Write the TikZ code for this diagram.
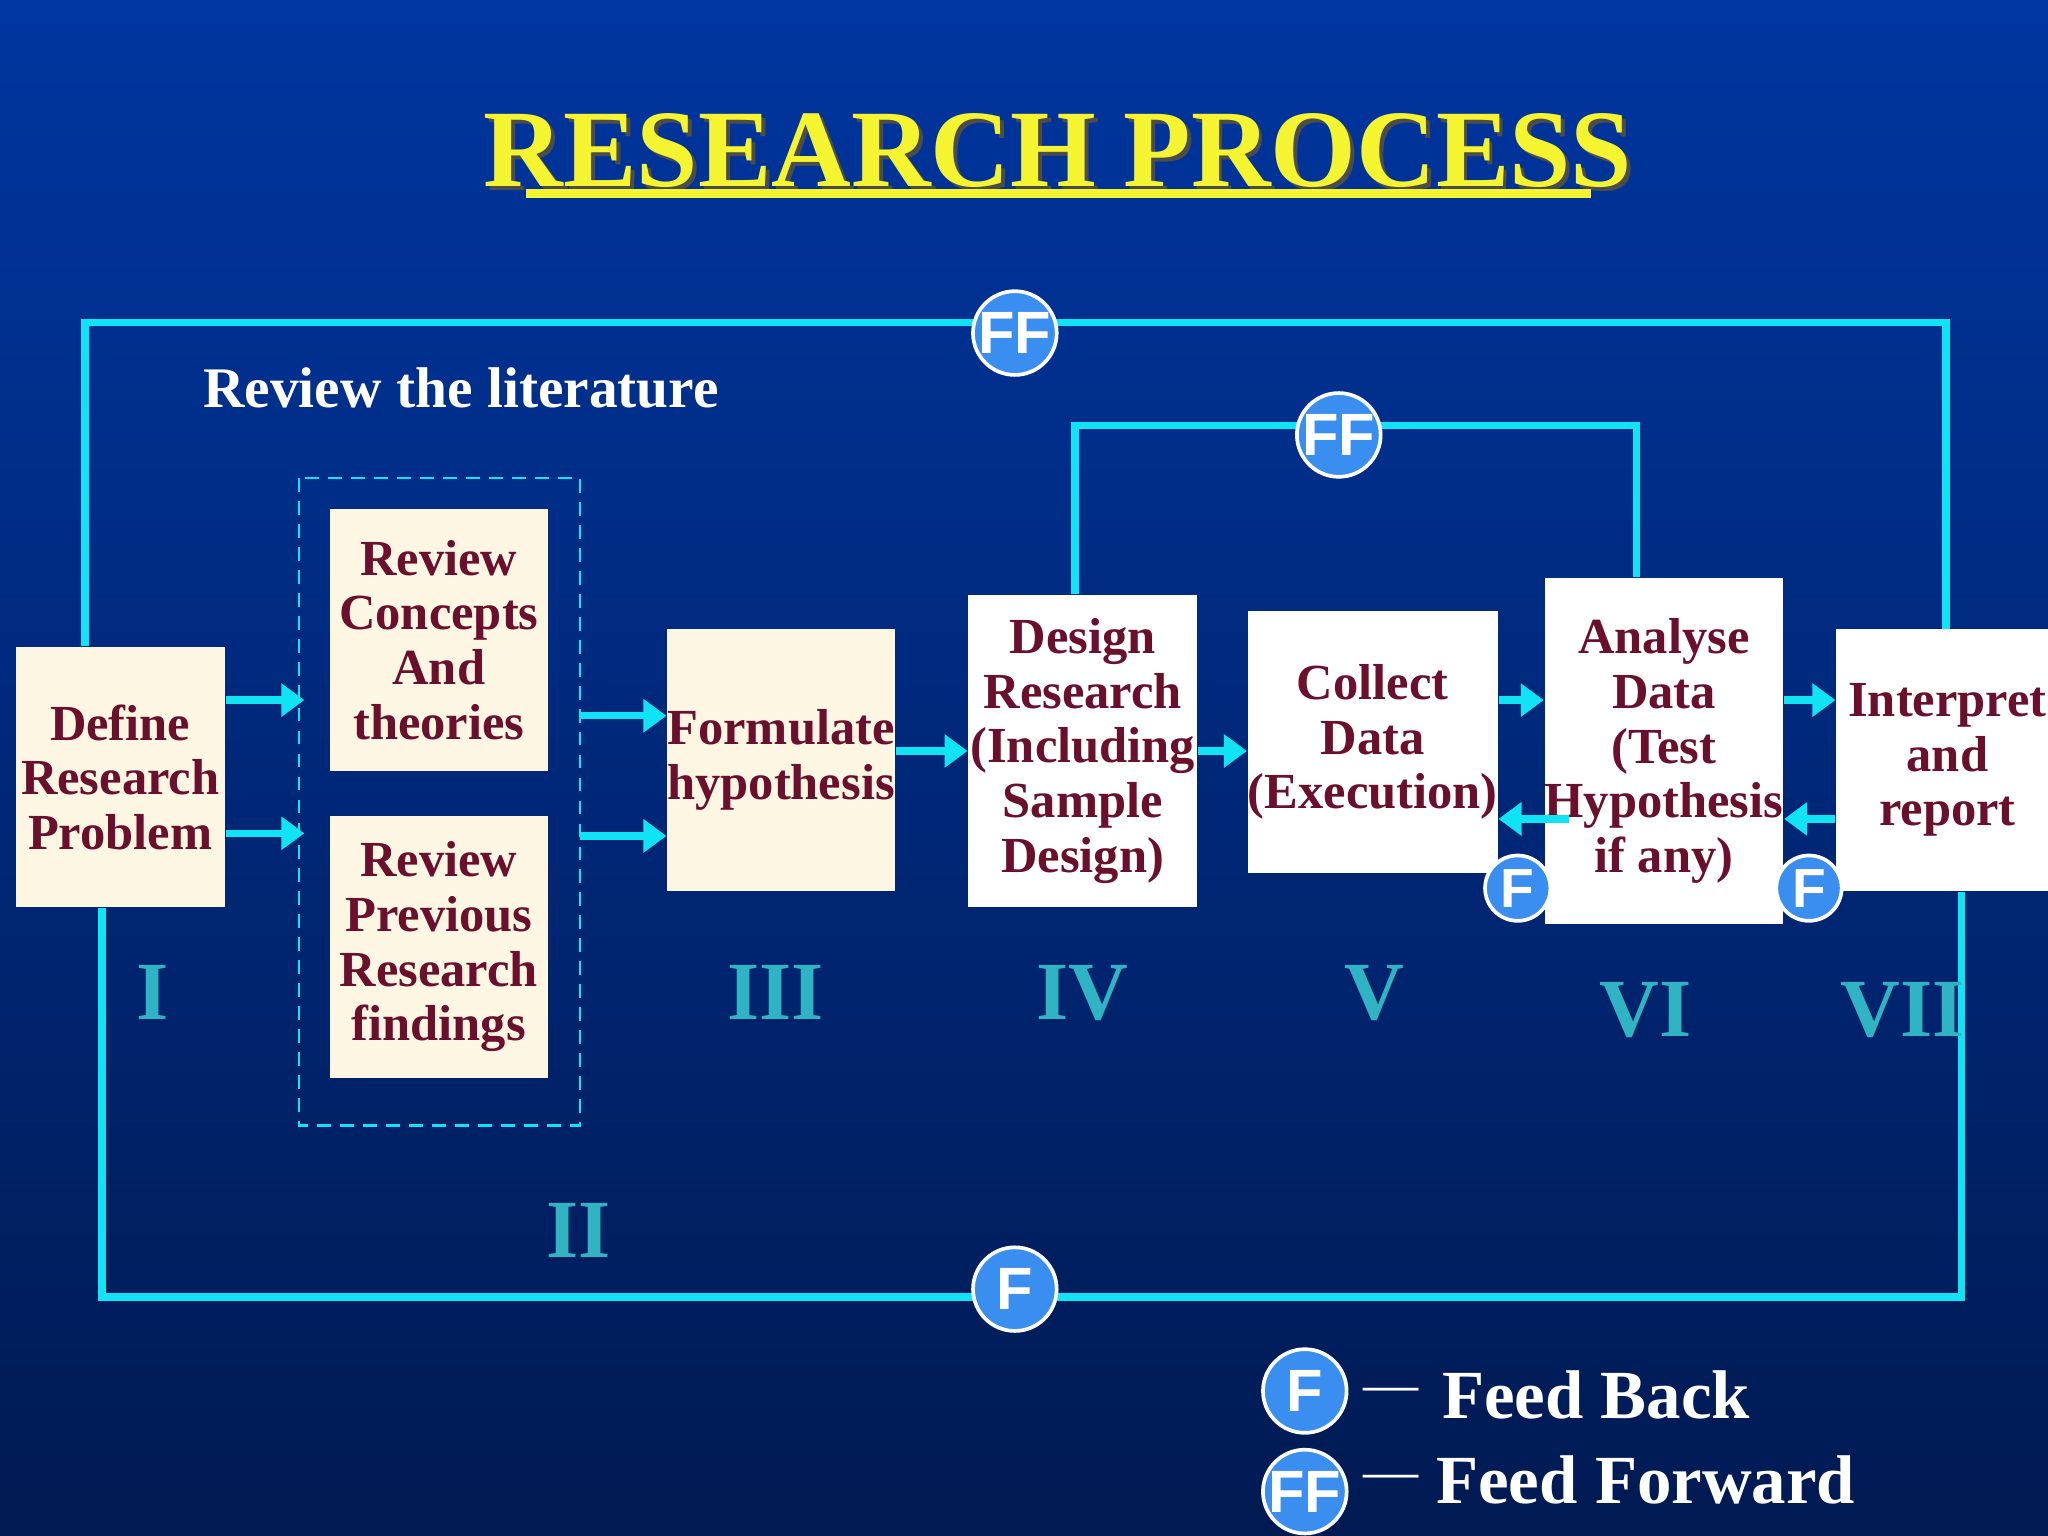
\documentclass[tikz,border=0pt]{standalone}
\usepackage{fontspec}
\setmainfont{Liberation Serif}
\newfontfamily\circfont{Liberation Sans}
\usetikzlibrary{arrows.meta}
\definecolor{bgtop}{HTML}{0036A0}
\definecolor{bgbot}{HTML}{001A52}
\definecolor{flow}{HTML}{10E4F4}
\definecolor{cream}{HTML}{FDF6E2}
\definecolor{maroon}{HTML}{6A0F2C}
\definecolor{numcol}{HTML}{30B4C4}
\definecolor{circ}{HTML}{3A8EF0}
\definecolor{ttl}{HTML}{F4F430}
\tikzset{
  stage/.style={draw=none, align=center, text=maroon, inner sep=0pt,
    font=\fontsize{11}{11.9}\selectfont\bfseries},
  line/.style={flow, line width=1.6pt},
  arr/.style={flow, line width=1.6pt, -{Triangle[length=5pt,width=7pt]}},
  badge/.style={circle, fill=circ, draw=white, line width=0.8pt, text=white,
    inner sep=0pt, font=\circfont\bfseries},
  roman/.style={text=numcol, font=\fontsize{18}{18}\selectfont\bfseries}
}
\begin{document}
\begin{tikzpicture}[x=0.01cm, y=-0.01cm]
  % background
  \shade[top color=bgtop, bottom color=bgbot] (0,0) rectangle (1568,1176);
  \useasboundingbox (0,0) rectangle (1568,1176);

  % title
  \node[text=black!70, font=\fontsize{24}{24}\selectfont\bfseries] at (813,118) {RESEARCH PROCESS};
  \node (title) [text=ttl, font=\fontsize{24}{24}\selectfont\bfseries] at (810,115) {RESEARCH PROCESS};
  \draw[ttl, line width=2pt] (403,148) -- (1218,148);
  \node (lit) [text=white, font=\fontsize{12.5}{14}\selectfont\bfseries] at (353,297) {Review the literature};

  % boxes
  \node (define) [stage, fill=cream, minimum width=1.6cm, minimum height=1.99cm] at (92,595) {Define\\Research\\Problem};
  \draw[flow, densely dashed, line width=0.6pt] (229,366) rectangle (444,862);
  \coordinate (litin1) at (233,536);
  \coordinate (litin2) at (233,638);
  \coordinate (litout1) at (444,548);
  \coordinate (litout2) at (444,640);
  \node (concepts) [stage, fill=cream, minimum width=1.67cm, minimum height=2.0cm] at (336,490) {Review\\Concepts\\And\\theories};
  \node (previous) [stage, fill=cream, minimum width=1.67cm, minimum height=2.0cm] at (336,725) {Review\\Previous\\Research\\findings};
  \node (formulate) [stage, fill=cream, minimum width=1.68cm, minimum height=2.0cm] at (598,582) {Formulate\\hypothesis};
  \node (design) [stage, fill=white, minimum width=1.75cm, minimum height=2.39cm] at (829,575) {Design\\Research\\(Including\\Sample\\Design)};
  \node (collect) [stage, fill=white, minimum width=1.74cm, minimum height=2.0cm] at (1051,568) {Collect\\Data\\(Execution)};
  \node (analyse) [stage, fill=white, minimum width=1.74cm, minimum height=2.65cm] at (1274,575) {Analyse\\Data\\(Test\\Hypothesis\\if any)};
  \node (interpret) [stage, fill=white, minimum width=1.7cm, minimum height=2.0cm] at (1491,582) {Interpret\\and\\report};

  % forward arrows
  \draw[arr] (define.east |- litin1) -- (litin1);
  \draw[arr] (define.east |- litin2) -- (litin2);
  \draw[arr] (litout1) -- (formulate.west |- litout1);
  \draw[arr] (litout2) -- (formulate.west |- litout2);
  \draw[arr] (formulate.east |- 0,575) -- (design.west |- 0,575);
  \draw[arr] (design.east |- 0,575) -- (collect.west |- 0,575);
  \draw[arr] (collect.east |- 0,536) -- (analyse.west |- 0,536);
  \draw[arr] (analyse.east |- 0,536) -- (interpret.west |- 0,536);
  % feedback arrows
  \draw[arr] (1201,627) -- (collect.east |- 0,627);
  \draw[arr] (interpret.west |- 0,627) -- (analyse.east |- 0,627);

  % loops
  \draw[line] (define.north -| 65,0) -- (65,247) -- (1490,247) -- (interpret.north -| 1490,0);
  \draw[line] (design.north -| 823,0) -- (823,326) -- (1253,326) -- (analyse.north -| 1253,0);
  \draw[line] (define.south -| 78,0) -- (78,993) -- (1502,993) -- (interpret.south -| 1502,0);

  % badges
  \node (ff1) [badge, minimum size=0.64cm, font=\circfont\bfseries\fontsize{13}{13}\selectfont] at (777,255) {FF};
  \node (ff2) [badge, minimum size=0.64cm, font=\circfont\bfseries\fontsize{13}{13}\selectfont] at (1025,333) {FF};
  \node (f1) [badge, minimum size=0.64cm, font=\circfont\bfseries\fontsize{13}{13}\selectfont] at (777,987) {F};
  \node (f2) [badge, minimum size=0.5cm, font=\circfont\bfseries\fontsize{12}{12}\selectfont] at (1162,680) {F};
  \node (f3) [badge, minimum size=0.5cm, font=\circfont\bfseries\fontsize{12}{12}\selectfont] at (1385,680) {F};

  % stage numbers
  \node (s1) [roman] at (117,760) {I};
  \node (s2) [roman] at (443,942) {II};
  \node (s3) [roman] at (594,760) {III};
  \node (s4) [roman] at (829,760) {IV};
  \node (s5) [roman] at (1052,760) {V};
  \node (s6) [roman] at (1260,773) {VI};
  \node (s7) [roman] at (1457,773) {VII};

  % legend
  \node (lf) [badge, minimum size=0.64cm, font=\circfont\bfseries\fontsize{13}{13}\selectfont] at (999,1065) {F};
  \node (lff) [badge, minimum size=0.64cm, font=\circfont\bfseries\fontsize{13}{13}\selectfont] at (999,1142) {FF};
  \node (lfd) [text=white, font=\fontsize{12}{12}\selectfont] at (1065,1068) {---};
  \node (lffd) [text=white, font=\fontsize{12}{12}\selectfont] at (1065,1135) {---};
  \node (lft) [text=white, font=\fontsize{15}{15}\selectfont\bfseries] at (1222,1068) {Feed Back};
  \node (lfft) [text=white, font=\fontsize{15}{15}\selectfont\bfseries] at (1260,1133) {Feed Forward};
\end{tikzpicture}
\end{document}
